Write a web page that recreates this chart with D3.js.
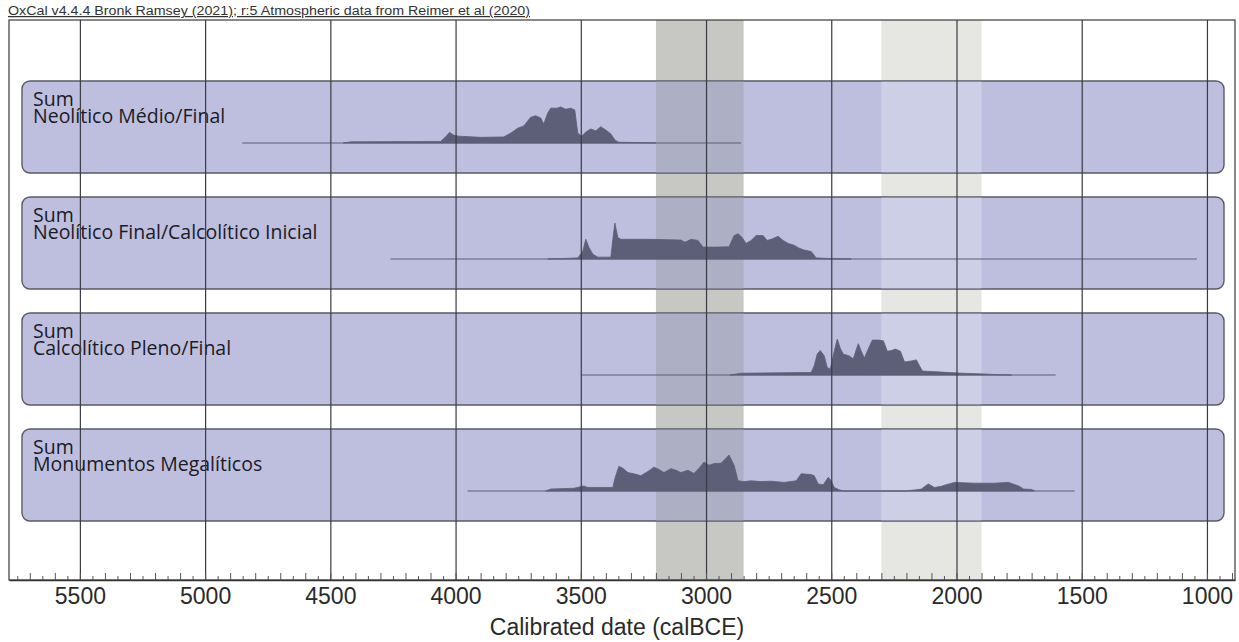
<!DOCTYPE html>
<html>
<head>
<meta charset="utf-8">
<script src="https://cdn.jsdelivr.net/npm/d3@7"></script>
<style>
  body { margin: 0; background: #fff; }
  svg { display: block; }
</style>
</head>
<body>
<svg id="chart" width="1239" height="642"></svg>
<script>
// OxCal sums, relative probability
const header = "OxCal v4.4.4 Bronk Ramsey (2021); r:5 Atmospheric data from Reimer et al (2020)"
const panelLabels = ["Neolítico Médio/Final", "Neolítico Final/Calcolítico Inicial", "Calcolítico Pleno/Final", "Monumentos Megalíticos"]
const rangeStart = [4852, 4260, 3500, 3952]
const rangeEnd = [2860, 1040, 1604, 1528]

const years1 = [4448,4420,4060,4040,4024,4008,3988,3900,3808,3780,3752,3728,3700,3680,3660,3648,3632,3620,3596,3580,3560,3540,3524,3512,3496,3480,3460,3440,3420,3400,3380,3364,3348,3260,3200]
const prob1 = [0,0.03,0.04,0.16,0.28,0.21,0.18,0.15,0.16,0.26,0.39,0.45,0.68,0.72,0.66,0.50,0.79,0.92,0.92,0.95,0.89,0.92,0.87,0.26,0.18,0.29,0.37,0.32,0.43,0.34,0.24,0.08,0.02,0.01,0]

const years2 = [3632,3580,3512,3492,3480,3468,3452,3432,3380,3372,3364,3352,3340,3220,3100,3084,3060,3032,3012,2960,2908,2888,2872,2856,2840,2820,2800,2772,2756,2740,2712,2692,2672,2648,2628,2608,2580,2560,2500,2420]
const prob2 = [0,0.01,0.03,0.21,0.53,0.32,0.13,0.05,0.05,0.53,0.97,0.58,0.53,0.53,0.51,0.45,0.53,0.50,0.32,0.32,0.33,0.63,0.68,0.58,0.42,0.50,0.63,0.63,0.50,0.53,0.61,0.50,0.42,0.37,0.29,0.24,0.20,0.03,0.01,0]

const years3 = [2904,2860,2580,2568,2556,2544,2528,2516,2504,2488,2476,2464,2452,2428,2412,2400,2392,2380,2368,2348,2336,2312,2292,2276,2260,2244,2224,2208,2200,2180,2160,2148,2136,2060,1980,1892,1840,1780]
const prob3 = [0,0.05,0.07,0.26,0.58,0.68,0.53,0.21,0.16,0.66,1.0,0.74,0.58,0.53,0.45,0.71,0.87,0.66,0.47,0.79,0.97,0.97,0.95,0.66,0.68,0.72,0.66,0.37,0.37,0.39,0.42,0.26,0.11,0.08,0.05,0.03,0.01,0]

const years4 = [3640,3620,3528,3500,3488,3472,3372,3364,3348,3332,3312,3288,3260,3232,3208,3188,3168,3140,3120,3100,3072,3048,3028,3008,2988,2968,2940,2920,2908,2888,2872,2848,2820,2780,2740,2688,2640,2620,2580,2568,2552,2532,2512,2500,2488,2468,2452,2208,2160,2140,2124,2112,2088,2060,2048,2008,1928,1848,1820,1792,1752,1732,1700,1688]
const prob4 = [0,0.05,0.07,0.11,0.13,0.09,0.09,0.32,0.63,0.58,0.47,0.44,0.39,0.50,0.61,0.55,0.47,0.57,0.53,0.47,0.53,0.45,0.58,0.74,0.66,0.70,0.71,0.84,0.92,0.66,0.26,0.24,0.26,0.24,0.25,0.22,0.26,0.44,0.42,0.39,0.18,0.16,0.35,0.26,0.09,0.03,0,0,0.03,0.05,0.13,0.18,0.09,0.12,0.15,0.22,0.20,0.20,0.21,0.22,0.13,0.05,0.04,0]

const allYears = [years1, years2, years3, years4]
const allProbs = [prob1, prob2, prob3, prob4]

// shaded intervals (calBCE)
const bandFrom = [3200, 2300]
const bandTo = [2850, 1900]
const bandOut = ["#c7c8c4", "#e6e6e2"]
const bandIn = ["#adb0c5", "#cdcfe6"]

const majorTicks = [5500, 5000, 4500, 4000, 3500, 3000, 2500, 2000, 1500, 1000]
const minorTicks = d3.range(5750, 899, -50)

const frameTop = 20, axisY = 580
const panelTop = [81, 197, 313, 429], panelH = 92
const panelLeft = 22, panelRight = 1224

const svg = d3.select("#chart")

const x = d3.scaleLinear()
            .domain([5783, 888])
            .range([9, 1235])

// header
svg.append("text")
   .attr("x", 8)
   .attr("y", 15)
   .attr("textLength", 522)
   .attr("lengthAdjust", "spacingAndGlyphs")
   .style("font-family", "Liberation Sans, Arial, sans-serif")
   .style("font-size", "12.5px")
   .style("text-decoration", "underline")
   .attr("fill", "#333")
   .text(header)

// bands behind everything
bandFrom.forEach((b, i) => {
    svg.append("rect")
       .attr("x", x(b))
       .attr("y", frameTop)
       .attr("width", x(bandTo[i]) - x(b))
       .attr("height", axisY - frameTop)
       .attr("fill", bandOut[i])
})

// panels
const panels = svg.selectAll(".panel")
                  .data(panelLabels)
                  .enter()
                  .append("g")
                  .attr("class", "panel")
                  .attr("transform", (d, i) => `translate(0, ${panelTop[i]})`)

panels.append("rect")
      .attr("x", panelLeft)
      .attr("y", 0)
      .attr("width", panelRight - panelLeft)
      .attr("height", panelH)
      .attr("rx", 8)
      .attr("fill", "#bebfdf")
      .attr("stroke", "#5a5a66")
      .attr("stroke-width", 1.4)

bandFrom.forEach((b, i) => {
    panels.append("rect")
          .attr("x", x(b))
          .attr("y", 0.7)
          .attr("width", x(bandTo[i]) - x(b))
          .attr("height", panelH - 1.4)
          .attr("fill", bandIn[i])
})

const label = panels.append("text")
                    .style("font-family", "Open Sans, sans-serif")
                    .style("font-size", "19.5px")
                    .style("font-weight", 500)
                    .attr("fill", "#1b1b24")

label.append("tspan")
     .attr("x", 33)
     .attr("y", 25)
     .text("Sum")

label.append("tspan")
     .attr("x", 33)
     .attr("y", 42)
     .text(d => d)

const base = 62
panels.each(function(d, i) {
    const g = d3.select(this)
    const pts = allYears[i].map((yr, k) => ({year: yr, p: allProbs[i][k]}))
    const h = d3.scaleLinear()
                .domain([0, d3.max(allProbs[i])])
                .range([base, base - 36])

    g.append("line")
     .attr("x1", x(rangeStart[i]))
     .attr("x2", x(rangeEnd[i]))
     .attr("y1", base)
     .attr("y2", base)
     .attr("stroke", "#5c5d72")
     .attr("stroke-width", 1)

    const area = d3.area()
                   .x(p => x(p.year))
                   .y0(base)
                   .y1(p => h(p.p))

    g.append("path")
     .datum(pts)
     .attr("d", area)
     .attr("fill", "#5d5e77")
     .attr("stroke", "#5d5e77")
     .attr("stroke-width", 0.8)
})

// grid lines over everything
const grid = svg.append("g")
                .attr("transform", `translate(0, ${axisY})`)
                .call(d3.axisTop(x).tickValues(majorTicks).tickSize(axisY - frameTop).tickFormat(""))
grid.select(".domain").remove()
grid.selectAll("line").attr("stroke", "#3a3a44").attr("stroke-width", 1.2)

// frame
svg.append("rect")
   .attr("x", 9)
   .attr("y", frameTop)
   .attr("width", 1235 - 9)
   .attr("height", axisY - frameTop)
   .attr("fill", "none")
   .attr("stroke", "#3a3a3a")
   .attr("stroke-width", 1.2)

// minor ticks
const minor = svg.append("g")
                 .attr("transform", `translate(0, ${axisY})`)
                 .call(d3.axisTop(x).tickValues(minorTicks).tickSize(5).tickFormat(""))
minor.select(".domain").remove()
minor.selectAll(".tick line")
     .attr("stroke", "#555")
     .attr("y2", d => d % 100 === 0 ? -7 : -4)

// axis labels
const axis = svg.append("g")
                .attr("transform", `translate(0, ${axisY})`)
                .call(d3.axisBottom(x).tickValues(majorTicks).tickSize(0).tickPadding(8).tickFormat(d3.format("d")))
axis.select(".domain").attr("stroke", "#333").attr("stroke-width", 1.4)
axis.selectAll("text")
    .style("font-family", "Liberation Sans, Arial, sans-serif")
    .style("font-size", "23px")
    .attr("fill", "#2a2a2a")

svg.append("text")
   .attr("x", 617)
   .attr("y", 635)
   .attr("text-anchor", "middle")
   .style("font-family", "Liberation Sans, Arial, sans-serif")
   .style("font-size", "23px")
   .attr("fill", "#2a2a2a")
   .text("Calibrated date (calBCE)")
</script>
</body>
</html>
